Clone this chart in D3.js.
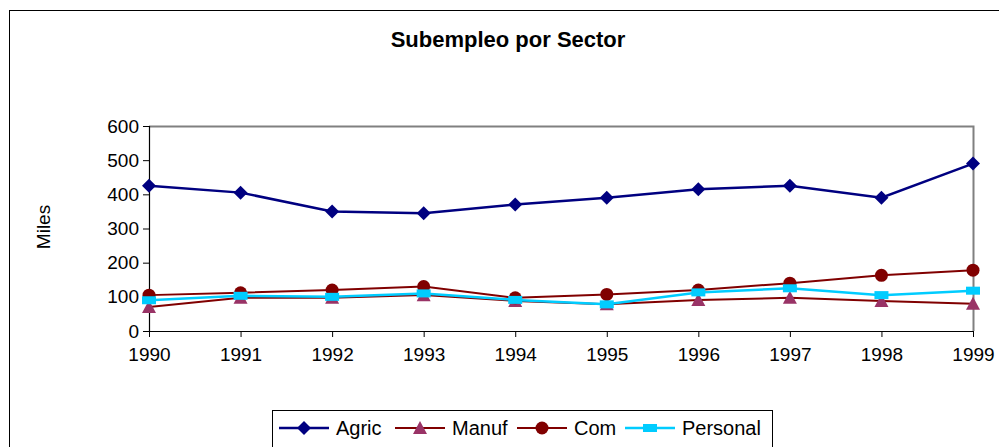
<!DOCTYPE html>
<html>
<head>
<meta charset="utf-8">
<script src="https://cdn.jsdelivr.net/npm/d3@7"></script>
<style>
  body { margin: 0; background: #fff; }
  svg { display: block; font-family: "Liberation Sans", Arial, sans-serif; }
</style>
</head>
<body>
<svg id="chart"></svg>
<script>
const years = [1990, 1991, 1992, 1993, 1994, 1995, 1996, 1997, 1998, 1999]
const agric = [425, 405, 350, 345, 370, 390, 415, 425, 390, 490]
const manuf = [70, 97, 97, 105, 88, 78, 91, 97, 88, 80]
const com = [105, 112, 120, 130, 97, 107, 120, 140, 163, 178]
const personal = [90, 103, 100, 110, 91, 78, 113, 125, 105, 118]
const yTicks = [0, 100, 200, 300, 400, 500, 600]

const series = [
  { name: "Agric", values: agric, line: "#000080", fill: "#000080", marker: "diamond", width: 2.5 },
  { name: "Manuf", values: manuf, line: "#800000", fill: "#993366", marker: "triangle", width: 2 },
  { name: "Com", values: com, line: "#800000", fill: "#800000", marker: "circle", width: 2 },
  { name: "Personal", values: personal, line: "#00CCFF", fill: "#00CCFF", marker: "square", width: 2.5 },
]

const W = 999, H = 447
const plot = { left: 149, right: 973, top: 126, bottom: 331 }

const svg = d3.select("#chart").attr("width", W).attr("height", H)

// outer chart frame (right / bottom edges fall outside the window)
svg.append("rect")
  .attr("x", 9.5).attr("y", 10.5)
  .attr("width", 1100).attr("height", 500)
  .attr("fill", "white").attr("stroke", "black")

const x = d3.scalePoint().domain(years).range([plot.left, plot.right])
const y = d3.scaleLinear().domain([0, 600]).range([plot.bottom, plot.top])

// plot area border (gray top/right)
svg.append("path")
  .attr("d", `M${plot.left},${plot.top + 0.5}H${plot.right + 0.5}V${plot.bottom}`)
  .attr("fill", "none").attr("stroke", "#808080").attr("stroke-width", 2)

const yAxis = svg.append("g")
  .attr("transform", `translate(${plot.left},0)`)
  .call(d3.axisLeft(y).tickValues(yTicks).tickSize(6).tickPadding(4))
const xAxis = svg.append("g")
  .attr("transform", `translate(0,${plot.bottom})`)
  .call(d3.axisBottom(x).tickSize(6).tickPadding(11))

;[yAxis, xAxis].forEach(ax => {
  ax.select(".domain").attr("stroke", "black").attr("stroke-width", 1.2)
  ax.selectAll(".tick line").attr("stroke", "black")
  ax.selectAll("text").attr("font-size", 19).attr("fill", "black")
    .attr("font-family", "Liberation Sans, Arial, sans-serif")
})
yAxis.select(".domain").attr("d", `M-6,${plot.top + 0.5}H0.5V${plot.bottom}`)
xAxis.select(".domain").attr("d", `M${plot.left},0.5H${plot.right}`)

svg.append("text")
  .attr("x", 508).attr("y", 47)
  .attr("text-anchor", "middle")
  .attr("font-size", 22).attr("font-weight", "bold")
  .text("Subempleo por Sector")

svg.append("text")
  .attr("transform", "translate(50,227) rotate(-90)")
  .attr("text-anchor", "middle")
  .attr("font-size", 19)
  .text("Miles")

const drawMarker = (g, s) => {
  if (s.marker === "diamond") {
    g.append("path").attr("d", "M0,-7L7,0L0,7L-7,0Z").attr("fill", s.fill)
  } else if (s.marker === "triangle") {
    g.append("path").attr("d", "M0,-7L7,6L-7,6Z").attr("fill", s.fill)
  } else if (s.marker === "circle") {
    g.append("circle").attr("r", 6.5).attr("fill", s.fill)
  } else {
    g.append("rect").attr("x", -7).attr("y", -4).attr("width", 14).attr("height", 8).attr("fill", s.fill)
  }
}

const line = d3.line().x((d, i) => x(years[i])).y(d => y(d))

series.forEach(s => {
  const g = svg.append("g")
  g.append("path")
    .attr("d", line(s.values))
    .attr("fill", "none")
    .attr("stroke", s.line)
    .attr("stroke-width", s.width)
  s.values.forEach((v, i) => {
    const m = g.append("g").attr("transform", `translate(${x(years[i])},${y(v)})`)
    drawMarker(m, s)
  })
})

// legend
const legendX = [279, 395, 517, 625]
const legendY = 428
svg.append("rect")
  .attr("x", 272.5).attr("y", 410.5)
  .attr("width", 500).attr("height", 60)
  .attr("fill", "white").attr("stroke", "black")

series.forEach((s, i) => {
  const g = svg.append("g").attr("transform", `translate(${legendX[i]},${legendY})`)
  g.append("line")
    .attr("x1", 0).attr("x2", 50)
    .attr("stroke", s.line).attr("stroke-width", s.width)
  drawMarker(g.append("g").attr("transform", "translate(25,0)"), s)
  g.append("text")
    .attr("x", 57).attr("y", 7)
    .attr("font-size", 20)
    .text(s.name)
})
</script>
</body>
</html>
